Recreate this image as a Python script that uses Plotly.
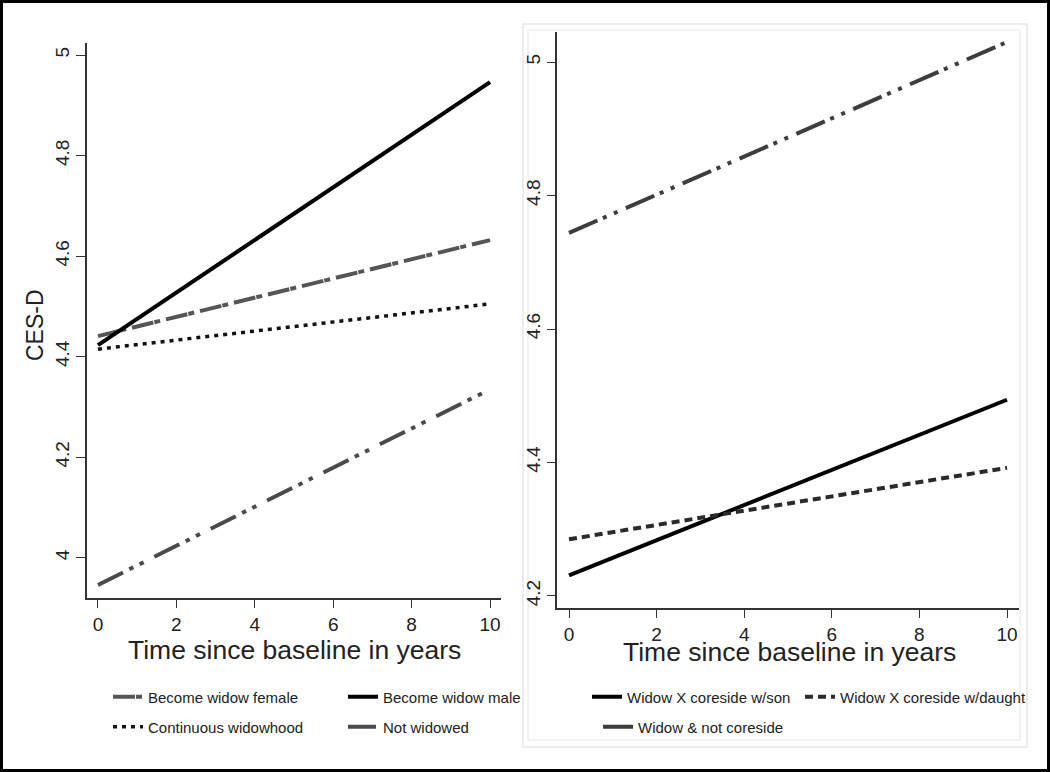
import plotly.graph_objects as go

W, H = 1050, 772

years = [0, 10]

# left panel: widowhood status
become_widow_female = [4.441, 4.632]
become_widow_male = [4.423, 4.946]
continuous_widowhood = [4.415, 4.505]
not_widowed = [3.946, 4.335]

# right panel: coresidence with children
widow_son = [4.231, 4.494]
widow_daughter = [4.285, 4.392]
widow_not_coreside = [4.744, 5.030]

x_ticks = [0, 2, 4, 6, 8, 10]
y_ticks_left = [4, 4.2, 4.4, 4.6, 4.8, 5]
y_ticks_right = [4.2, 4.4, 4.6, 4.8, 5]

FONT = 'Liberation Sans, Arial, sans-serif'
AX = '#333333'
TXT = '#222222'


def px_x(p):
    return p / W


def px_y(p):
    return 1 - p / H


fig = go.Figure()

# left panel
fig.add_trace(go.Scatter(x=years, y=become_widow_female, mode='lines', name='Become widow female',
                         line=dict(color='#555555', width=4, dash='22px,1px,6px,6px'),
                         xaxis='x', yaxis='y', legend='legend'))
fig.add_trace(go.Scatter(x=years, y=become_widow_male, mode='lines', name='Become widow male',
                         line=dict(color='#000000', width=4),
                         xaxis='x', yaxis='y', legend='legend'))
fig.add_trace(go.Scatter(x=years, y=continuous_widowhood, mode='lines', name='Continuous widowhood',
                         line=dict(color='#111111', width=3.5, dash='4px,5px'),
                         xaxis='x', yaxis='y', legend='legend2'))
fig.add_trace(go.Scatter(x=years, y=not_widowed, mode='lines', name='Not widowed',
                         line=dict(color='#4a4a4a', width=4, dash='28px,7px,4.5px,7px,4.5px,12px'),
                         xaxis='x', yaxis='y', legend='legend2'))

# right panel
fig.add_trace(go.Scatter(x=years, y=widow_son, mode='lines', name='Widow X coreside w/son',
                         line=dict(color='#000000', width=4),
                         xaxis='x2', yaxis='y2', legend='legend3'))
fig.add_trace(go.Scatter(x=years, y=widow_daughter, mode='lines', name='Widow X coreside w/daught',
                         line=dict(color='#2a2a2a', width=4, dash='8px,5px'), legendwidth=200,
                         xaxis='x2', yaxis='y2', legend='legend3'))
fig.add_trace(go.Scatter(x=years, y=widow_not_coreside, mode='lines', name='Widow & not coreside',
                         line=dict(color='#3d3d3d', width=4, dash='31px,6px,4px,8px,4px,9px'),
                         xaxis='x2', yaxis='y2', legend='legend4'))

axis_common = dict(showline=True, linecolor=AX, linewidth=1.5, ticks='outside', tickcolor=AX,
                   tickwidth=1.3, showgrid=False, zeroline=False,
                   tickfont=dict(family=FONT, size=19, color=TXT))

legend_common = dict(orientation='h', xanchor='left', yanchor='middle', bgcolor='rgba(0,0,0,0)',
                     font=dict(family=FONT, size=15, color=TXT), traceorder='normal')

fig.update_layout(
    width=W, height=H,
    margin=dict(l=0, r=0, t=0, b=0),
    paper_bgcolor='white', plot_bgcolor='white',
    font=dict(family=FONT, color=TXT),
    xaxis=dict(domain=[px_x(87), px_x(501)], range=[-0.28, 10.28], tickvals=x_ticks,
               anchor='y', ticklen=8, **axis_common),
    yaxis=dict(domain=[px_y(598), px_y(43)], range=[3.92, 5.024], tickvals=y_ticks_left,
               anchor='x', ticklen=9, tickangle=-90, **axis_common),
    xaxis2=dict(domain=[px_x(557), px_x(1019)], range=[-0.274, 10.274], tickvals=x_ticks,
                anchor='y2', ticklen=8, **axis_common),
    yaxis2=dict(domain=[px_y(608), px_y(32)], range=[4.182, 5.045], tickvals=y_ticks_right,
                anchor='x2', ticklen=8, tickangle=-90, **axis_common),
    legend=dict(x=px_x(108), y=px_y(697), entrywidth=190, **legend_common),
    legend2=dict(x=px_x(108), y=px_y(727), entrywidth=190, **legend_common),
    legend3=dict(x=px_x(587), y=px_y(697), entrywidth=168, **legend_common),
    legend4=dict(x=px_x(598), y=px_y(727), entrywidth=168, **legend_common),
)

# axis titles
title_font = dict(family=FONT, size=26.5, color=TXT)
fig.add_annotation(text='Time since baseline in years', x=px_x(294.5), y=px_y(650), xref='paper', yref='paper',
                   xanchor='center', yanchor='middle', showarrow=False, font=title_font)
fig.add_annotation(text='Time since baseline in years', x=px_x(789.5), y=px_y(652), xref='paper', yref='paper',
                   xanchor='center', yanchor='middle', showarrow=False, font=title_font)
fig.add_annotation(text='CES-D', x=px_x(35), y=px_y(325), xref='paper', yref='paper', textangle=-90,
                   xanchor='center', yanchor='middle', showarrow=False,
                   font=dict(family=FONT, size=23, color=TXT))

# right panel graph-region boxes
fig.add_shape(type='rect', xref='paper', yref='paper', x0=px_x(523), x1=px_x(1027), y0=px_y(747), y1=px_y(24),
              line=dict(color='#e6e6e6', width=1.5), layer='below')
fig.add_shape(type='rect', xref='paper', yref='paper', x0=px_x(528), x1=px_x(1020), y0=px_y(740), y1=px_y(30),
              line=dict(color='#efefef', width=1.5), layer='below')

# outer frame
fig.add_shape(type='rect', xref='paper', yref='paper', x0=0, x1=1, y0=0, y1=1,
              line=dict(color='black', width=6))

fig.write_html("out.html", config={'displayModeBar': False},
               post_script="document.body.style.margin='0';document.body.style.overflow='hidden';")
